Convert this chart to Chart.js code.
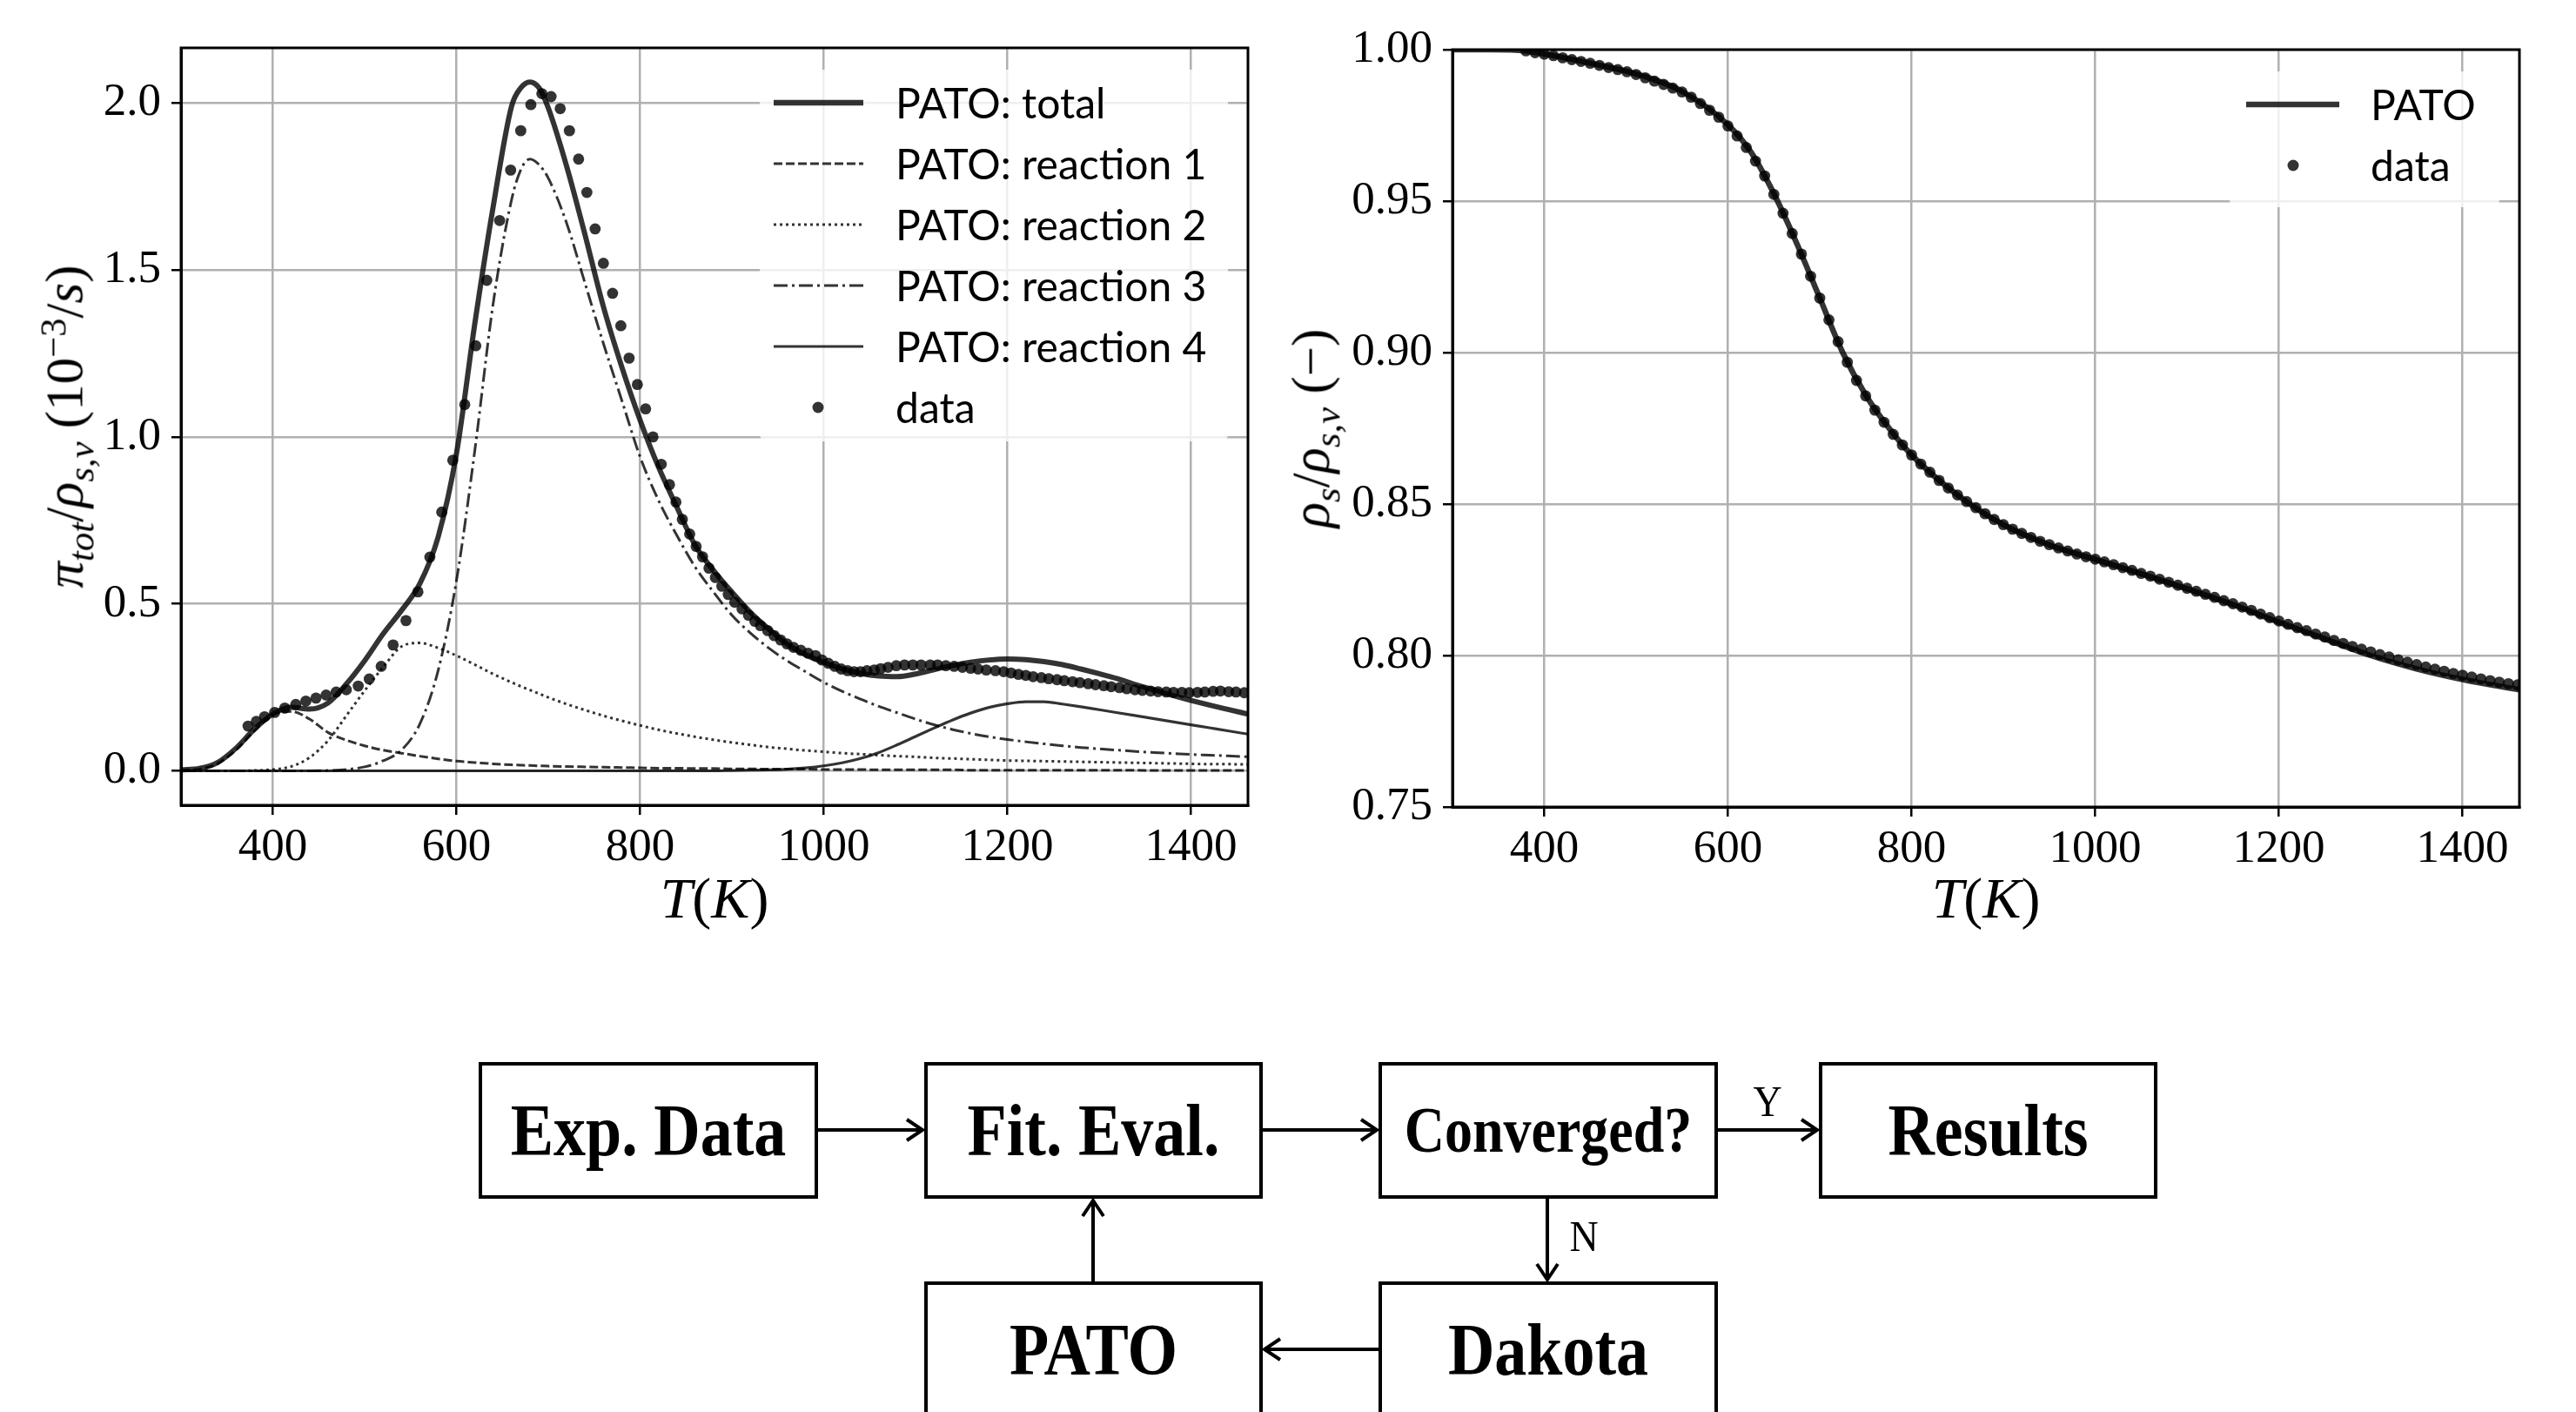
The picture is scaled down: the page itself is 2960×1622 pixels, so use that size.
<!DOCTYPE html>
<html>
<head>
<meta charset="utf-8">
<script src="https://cdn.jsdelivr.net/npm/chart.js@4.4.1/dist/chart.umd.min.js"></script>
<style>
html,body{margin:0;padding:0;background:#fff;}
#page{position:relative;width:2960px;height:1622px;overflow:hidden;background:#fff;}
canvas{position:absolute;}
.ttl{position:absolute;font-family:'Liberation Serif',serif;color:#000;white-space:nowrap;line-height:1;}
.ttl .sb{font-size:0.7em;position:relative;top:0.3em;}
.ttl .sp{font-size:0.7em;position:relative;top:-0.45em;}
.legend{position:absolute;background:rgba(255,255,255,0.8);border-radius:8px;}
.legend svg{position:absolute;left:0;top:0;}
.legtxt{position:absolute;font-family:Lato,sans-serif;font-size:48px;color:#000;white-space:nowrap;line-height:1;transform:translateY(-50%);}
.box{position:absolute;border:4px solid #000;box-sizing:border-box;background:#fff;display:flex;align-items:center;justify-content:center;font-family:'Liberation Serif',serif;font-weight:bold;font-size:74px;color:#000;white-space:nowrap;}
.box span{display:inline-block;transform:scaleY(1.15);}
.yn{position:absolute;font-family:'Liberation Serif',serif;font-size:46px;color:#000;line-height:1;transform:translate(-50%,-50%) scaleY(1.1);}
</style>
</head>
<body>
<div id="page">
  <canvas id="c1" width="1480" height="1100" style="left:0;top:0;width:1480px;height:1100px"></canvas>
  <canvas id="c2" width="1480" height="1100" style="left:1480px;top:0;width:1480px;height:1100px"></canvas>

  <!-- axis titles -->
  <div class="ttl" style="left:74px;top:490px;font-size:61px;transform:translate(-50%,-50%) rotate(-90deg);"><i>π</i><span class="sb"><i>tot</i></span>/<i>ρ</i><span class="sb"><i>s,v</i></span>&nbsp;(10<span class="sp">−3</span>/<i>s</i>)</div>
  <div class="ttl" style="left:1506px;top:492px;font-size:61px;transform:translate(-50%,-50%) rotate(-90deg);"><i>ρ</i><span class="sb"><i>s</i></span>/<i>ρ</i><span class="sb"><i>s,v</i></span>&nbsp;(−)</div>
  <div class="ttl" style="left:821px;top:1032px;font-size:66px;transform:translate(-50%,-50%);"><i>T</i>(<i>K</i>)</div>
  <div class="ttl" style="left:2282px;top:1032px;font-size:66px;transform:translate(-50%,-50%);"><i>T</i>(<i>K</i>)</div>

  <!-- left legend -->
  <div class="legend" style="left:873px;top:80px;width:538px;height:427px;">
    <svg width="538" height="427">
      <line x1="16" y1="38" x2="119" y2="38" stroke="rgba(0,0,0,0.8)" stroke-width="6.5"/>
      <line x1="16" y1="108" x2="119" y2="108" stroke="rgba(0,0,0,0.8)" stroke-width="3" stroke-dasharray="10 4"/>
      <line x1="16" y1="178" x2="119" y2="178" stroke="rgba(0,0,0,0.8)" stroke-width="3" stroke-dasharray="3 4"/>
      <line x1="16" y1="248" x2="119" y2="248" stroke="rgba(0,0,0,0.8)" stroke-width="3" stroke-dasharray="16 5 3 5"/>
      <line x1="16" y1="318" x2="119" y2="318" stroke="rgba(0,0,0,0.8)" stroke-width="3.2"/>
      <circle cx="67" cy="388" r="6.5" fill="rgba(0,0,0,0.8)"/>
    </svg>
    <div class="legtxt" style="left:156px;top:38px;">PATO: total</div>
    <div class="legtxt" style="left:156px;top:108px;">PATO: reaction 1</div>
    <div class="legtxt" style="left:156px;top:178px;">PATO: reaction 2</div>
    <div class="legtxt" style="left:156px;top:248px;">PATO: reaction 3</div>
    <div class="legtxt" style="left:156px;top:318px;">PATO: reaction 4</div>
    <div class="legtxt" style="left:156px;top:388px;">data</div>
  </div>

  <!-- right legend -->
  <div class="legend" style="left:2562px;top:82px;width:310px;height:156px;">
    <svg width="310" height="156">
      <line x1="19" y1="38" x2="126" y2="38" stroke="rgba(0,0,0,0.8)" stroke-width="6.5"/>
      <circle cx="73" cy="108" r="6.5" fill="rgba(0,0,0,0.8)"/>
    </svg>
    <div class="legtxt" style="left:162px;top:38px;">PATO</div>
    <div class="legtxt" style="left:162px;top:108px;">data</div>
  </div>

  <!-- flowchart -->
  <div class="box" style="left:550px;top:1220px;width:390px;height:157px;"><span>Exp. Data</span></div>
  <div class="box" style="left:1062px;top:1220px;width:389px;height:157px;"><span>Fit. Eval.</span></div>
  <div class="box" style="left:1584px;top:1220px;width:390px;height:157px;font-size:64px;"><span>Converged?</span></div>
  <div class="box" style="left:2090px;top:1220px;width:389px;height:157px;"><span>Results</span></div>
  <div class="box" style="left:1062px;top:1472px;width:389px;height:157px;"><span>PATO</span></div>
  <div class="box" style="left:1584px;top:1472px;width:390px;height:157px;"><span>Dakota</span></div>
  <svg width="2960" height="1622" style="position:absolute;left:0;top:0;pointer-events:none;">
    <g stroke="#000" stroke-width="4" fill="none" stroke-linecap="butt" stroke-linejoin="miter">
      <line x1="940" y1="1298" x2="1060" y2="1298"/>
      <polyline points="1042,1286 1060,1298 1042,1310"/>
      <line x1="1451" y1="1298" x2="1582" y2="1298"/>
      <polyline points="1564,1286 1582,1298 1564,1310"/>
      <line x1="1974" y1="1298" x2="2088" y2="1298"/>
      <polyline points="2070,1286 2088,1298 2070,1310"/>
      <line x1="1778" y1="1377" x2="1778" y2="1470"/>
      <polyline points="1766,1452 1778,1470 1790,1452"/>
      <line x1="1256" y1="1472" x2="1256" y2="1379"/>
      <polyline points="1244,1397 1256,1379 1268,1397"/>
      <line x1="1584" y1="1550" x2="1453" y2="1550"/>
      <polyline points="1471,1538 1453,1550 1471,1562"/>
    </g>
  </svg>
  <div class="yn" style="left:2031px;top:1266px;">Y</div>
  <div class="yn" style="left:1820px;top:1421px;">N</div>
</div>

<script>
// ---------- Left panel: reaction rates ----------
const xTicks = [400, 600, 800, 1000, 1200, 1400];
const yTicksRate = [0.0, 0.5, 1.0, 1.5, 2.0];
const yTicksRho = [0.75, 0.80, 0.85, 0.90, 0.95, 1.00];

const modelT = [300,320,340,360,380,400,420,440,460,480,
  500,520,540,560,580,600,620,640,660,670,
  680,690,700,720,740,760,780,800,820,840,
  860,880,900,920,940,960,980,1000,1020,1040,
  1060,1080,1100,1120,1140,1160,1180,1200,1220,1240,
  1260,1280,1300,1320,1340,1360,1380,1400,1420,1440,
  1462];

const totalModel = [0.003,0.007,0.025,0.068,0.125,0.170,0.190,0.185,0.203,0.260,
  0.330,0.410,0.480,0.560,0.700,0.950,1.340,1.690,1.990,2.045,
  2.063,2.045,1.985,1.810,1.605,1.390,1.210,1.050,0.910,0.790,
  0.675,0.600,0.535,0.475,0.425,0.380,0.348,0.325,0.305,0.292,
  0.284,0.282,0.290,0.303,0.315,0.325,0.332,0.335,0.333,0.327,
  0.318,0.305,0.291,0.276,0.258,0.242,0.226,0.211,0.197,0.184,
  0.170];

const r1Model = [0.002,0.005,0.022,0.063,0.120,0.168,0.178,0.155,0.115,0.092,
  0.075,0.062,0.053,0.044,0.036,0.029,0.025,0.021,0.018,0.017,
  0.016,0.015,0.014,0.013,0.012,0.011,0.010,0.009,0.008,0.008,
  0.007,0.007,0.006,0.006,0.005,0.005,0.005,0.004,0.004,0.004,
  0.003,0.003,0.003,0.003,0.003,0.002,0.002,0.002,0.002,0.002,
  0.002,0.002,0.002,0.002,0.002,0.001,0.001,0.001,0.001,0.001,
  0.001];

const r2Model = [0,0,0,0,0.001,0.004,0.013,0.040,0.090,0.165,
  0.240,0.310,0.372,0.383,0.368,0.345,0.318,0.290,0.265,0.253,
  0.242,0.231,0.220,0.200,0.182,0.165,0.150,0.136,0.123,0.112,
  0.102,0.093,0.085,0.078,0.071,0.066,0.061,0.057,0.053,0.050,
  0.047,0.044,0.042,0.039,0.037,0.035,0.033,0.031,0.030,0.029,
  0.028,0.027,0.026,0.025,0.024,0.023,0.022,0.021,0.020,0.020,
  0.019];

const r3Model = [0,0,0,0,0,0,0,0,0.001,0.004,
  0.012,0.030,0.062,0.140,0.300,0.570,0.960,1.400,1.710,1.800,
  1.832,1.815,1.775,1.640,1.460,1.280,1.110,0.940,0.810,0.705,
  0.610,0.535,0.466,0.413,0.368,0.330,0.297,0.265,0.238,0.215,
  0.193,0.174,0.155,0.138,0.124,0.112,0.102,0.094,0.087,0.081,
  0.075,0.070,0.066,0.062,0.058,0.055,0.052,0.049,0.047,0.045,
  0.042];

const r4Model = [0,0,0,0,0,0,0,0,0,0,
  0,0,0,0,0,0,0,0,0,0,
  0,0,0,0,0,0,0,0,0,0,
  0,0,0.001,0.002,0.003,0.005,0.009,0.015,0.024,0.037,
  0.055,0.078,0.103,0.128,0.152,0.173,0.190,0.201,0.207,0.207,
  0.200,0.192,0.183,0.174,0.165,0.156,0.147,0.138,0.129,0.120,
  0.110];

const dataT = [373,382,391,402,413,425,436,447,458,469,
  480,493,505,518,531,545,558,571,584,596,
  609,621,633,647,659,670,681,693,703,713,
  723,733,742,751,760,770,779,788,797,806,
  814,823,832,839,846,854,861,868,875,882,
  889,896,903,911,918,925,931,939,946,953,
  960,967,975,983,991,998,1005,1012,1019,1026,
  1033,1040,1047,1055,1062,1070,1079,1088,1097,1106,
  1116,1124,1133,1142,1151,1160,1168,1177,1187,1196,
  1204,1212,1220,1228,1237,1245,1254,1262,1271,1279,
  1288,1296,1305,1313,1322,1330,1339,1347,1356,1364,
  1373,1381,1390,1398,1407,1415,1424,1432,1441,1449,
  1458];

const dataRate = [0.134,0.148,0.162,0.175,0.188,0.199,0.209,0.218,0.227,0.236,
  0.243,0.254,0.275,0.313,0.377,0.450,0.536,0.640,0.775,0.930,
  1.097,1.273,1.469,1.648,1.799,1.917,1.995,2.028,2.019,1.983,
  1.917,1.832,1.732,1.623,1.520,1.430,1.333,1.236,1.157,1.084,
  1.000,0.918,0.857,0.805,0.753,0.709,0.672,0.641,0.607,0.579,
  0.553,0.528,0.505,0.485,0.466,0.448,0.435,0.420,0.405,0.392,
  0.380,0.370,0.361,0.352,0.345,0.332,0.322,0.313,0.305,0.300,
  0.297,0.297,0.300,0.302,0.306,0.310,0.315,0.317,0.317,0.317,
  0.317,0.317,0.315,0.313,0.310,0.307,0.305,0.302,0.300,0.297,
  0.293,0.289,0.286,0.282,0.279,0.276,0.273,0.270,0.267,0.264,
  0.261,0.258,0.255,0.252,0.249,0.246,0.243,0.241,0.239,0.237,
  0.236,0.235,0.235,0.234,0.235,0.236,0.238,0.239,0.237,0.236,
  0.234];

// ---------- Right panel: density ratio ----------
const rhoModelT = [300,340,380,400,450,500,550,600,625,650,
  675,700,725,750,775,800,850,900,950,1000,
  1050,1100,1150,1200,1250,1300,1350,1400,1462];
const rhoModel = [1.0000,1.0000,0.9996,0.9986,0.9955,0.9920,0.9862,0.9752,0.9662,0.9525,
  0.9360,0.9180,0.9000,0.8860,0.8752,0.8662,0.8530,0.8432,0.8365,0.8317,
  0.8270,0.8220,0.8168,0.8110,0.8055,0.8000,0.7956,0.7921,0.7887];

const rhoDataT = [380,390,400,410,420,430,440,450,460,470,
  480,490,500,510,520,530,540,550,560,570,
  580,590,600,610,620,630,640,650,660,670,
  680,690,700,710,720,730,740,750,760,770,
  780,790,800,810,820,830,840,850,860,870,
  880,890,900,910,920,930,940,950,960,970,
  980,990,1000,1010,1020,1030,1040,1050,1060,1070,
  1080,1090,1100,1110,1120,1130,1140,1150,1160,1170,
  1180,1190,1200,1210,1220,1230,1240,1250,1260,1270,
  1280,1290,1300,1310,1320,1330,1340,1350,1360,1370,
  1380,1390,1400,1410,1420,1430,1440,1450,1460];
const rhoData = [0.9996,0.9990,0.9985,0.9980,0.9973,0.9967,0.9961,0.9955,0.9948,0.9941,
  0.9934,0.9927,0.9918,0.9907,0.9896,0.9885,0.9873,0.9860,0.9843,0.9822,
  0.9800,0.9777,0.9748,0.9715,0.9677,0.9632,0.9583,0.9522,0.9460,0.9393,
  0.9325,0.9252,0.9180,0.9108,0.9036,0.8968,0.8908,0.8857,0.8810,0.8770,
  0.8730,0.8695,0.8662,0.8632,0.8605,0.8578,0.8553,0.8530,0.8508,0.8488,
  0.8468,0.8449,0.8432,0.8417,0.8403,0.8390,0.8377,0.8366,0.8355,0.8345,
  0.8335,0.8326,0.8318,0.8309,0.8300,0.8290,0.8281,0.8271,0.8262,0.8252,
  0.8242,0.8232,0.8222,0.8212,0.8202,0.8192,0.8181,0.8171,0.8160,0.8149,
  0.8137,0.8125,0.8114,0.8103,0.8092,0.8082,0.8071,0.8061,0.8050,0.8040,
  0.8030,0.8021,0.8012,0.8003,0.7995,0.7986,0.7978,0.7970,0.7962,0.7955,
  0.7948,0.7941,0.7935,0.7929,0.7923,0.7917,0.7912,0.7907,0.7903];

// ---------- helpers ----------
const INK = 'rgba(0,0,0,0.8)';
const pts = (xs, ys) => xs.map((x, i) => ({x: x, y: ys[i]}));
const lineDs = (label, xs, ys, w, dash, order) => ({
  type: 'line', label: label, data: pts(xs, ys), borderColor: INK, borderWidth: w,
  borderDash: dash, pointRadius: 0, fill: false, cubicInterpolationMode: 'monotone', order: order
});
const dotDs = (xs, ys) => ({
  type: 'scatter', label: 'data', data: pts(xs, ys), pointRadius: 6.4, pointHoverRadius: 6.4,
  pointBackgroundColor: INK, pointBorderWidth: 0, showLine: false, order: 0
});
const tickFont = {family: "'Liberation Serif', serif", size: 53};
function axis(min, max, tickVals, fmt, isX, size) {
  return {
    type: 'linear', min: min, max: max, position: isX ? 'bottom' : 'left',
    afterBuildTicks: s => { s.ticks = tickVals.map(v => ({value: v})); },
    afterFit: s => { if (isX) s.height = size; else s.width = size; },
    ticks: {color: '#000', font: tickFont, padding: isX ? 6 : 12, maxRotation: 0, minRotation: 0,
            autoSkip: false, callback: v => fmt(v)},
    grid: {color: '#b0b0b0', lineWidth: 2.5, tickLength: 11, tickColor: '#000', tickWidth: 2.5},
    border: {color: '#000', width: 3}
  };
}
const frame = {id: 'frame', afterDraw(c) {
  const a = c.chartArea, ctx = c.ctx;
  ctx.save(); ctx.strokeStyle = '#000'; ctx.lineWidth = 3;
  ctx.strokeRect(a.left, a.top, a.right - a.left, a.bottom - a.top); ctx.restore();
}};
const common = (padding, scales) => ({
  responsive: false, animation: false, devicePixelRatio: 1,
  layout: {padding: padding},
  plugins: {legend: {display: false}, tooltip: {enabled: false}},
  scales: scales
});

new Chart(document.getElementById('c1'), {
  type: 'line',
  data: {datasets: [
    dotDs(dataT, dataRate),
    lineDs('PATO: total', modelT, totalModel, 6, [], 1),
    lineDs('PATO: reaction 1', modelT, r1Model, 3, [10, 4], 2),
    lineDs('PATO: reaction 2', modelT, r2Model, 3, [3, 4], 3),
    lineDs('PATO: reaction 3', modelT, r3Model, 3, [16, 5, 3, 5], 4),
    lineDs('PATO: reaction 4', modelT, r4Model, 3.2, [], 5)
  ]},
  options: common({left: 0, top: 55, right: 46, bottom: 0}, {
    x: axis(300, 1462, xTicks, v => String(v), true, 175),
    y: axis(-0.103, 2.165, yTicksRate, v => v.toFixed(1), false, 208)
  }),
  plugins: [frame]
});

new Chart(document.getElementById('c2'), {
  type: 'line',
  data: {datasets: [
    dotDs(rhoDataT, rhoData),
    lineDs('PATO', rhoModelT, rhoModel, 6.5, [], 1)
  ]},
  options: common({left: 0, top: 57, right: 65, bottom: 0}, {
    x: axis(300, 1462, xTicks, v => String(v), true, 173),
    y: axis(0.75, 1.0, yTicksRho, v => v.toFixed(2), false, 189)
  }),
  plugins: [frame]
});
</script>
</body>
</html>
